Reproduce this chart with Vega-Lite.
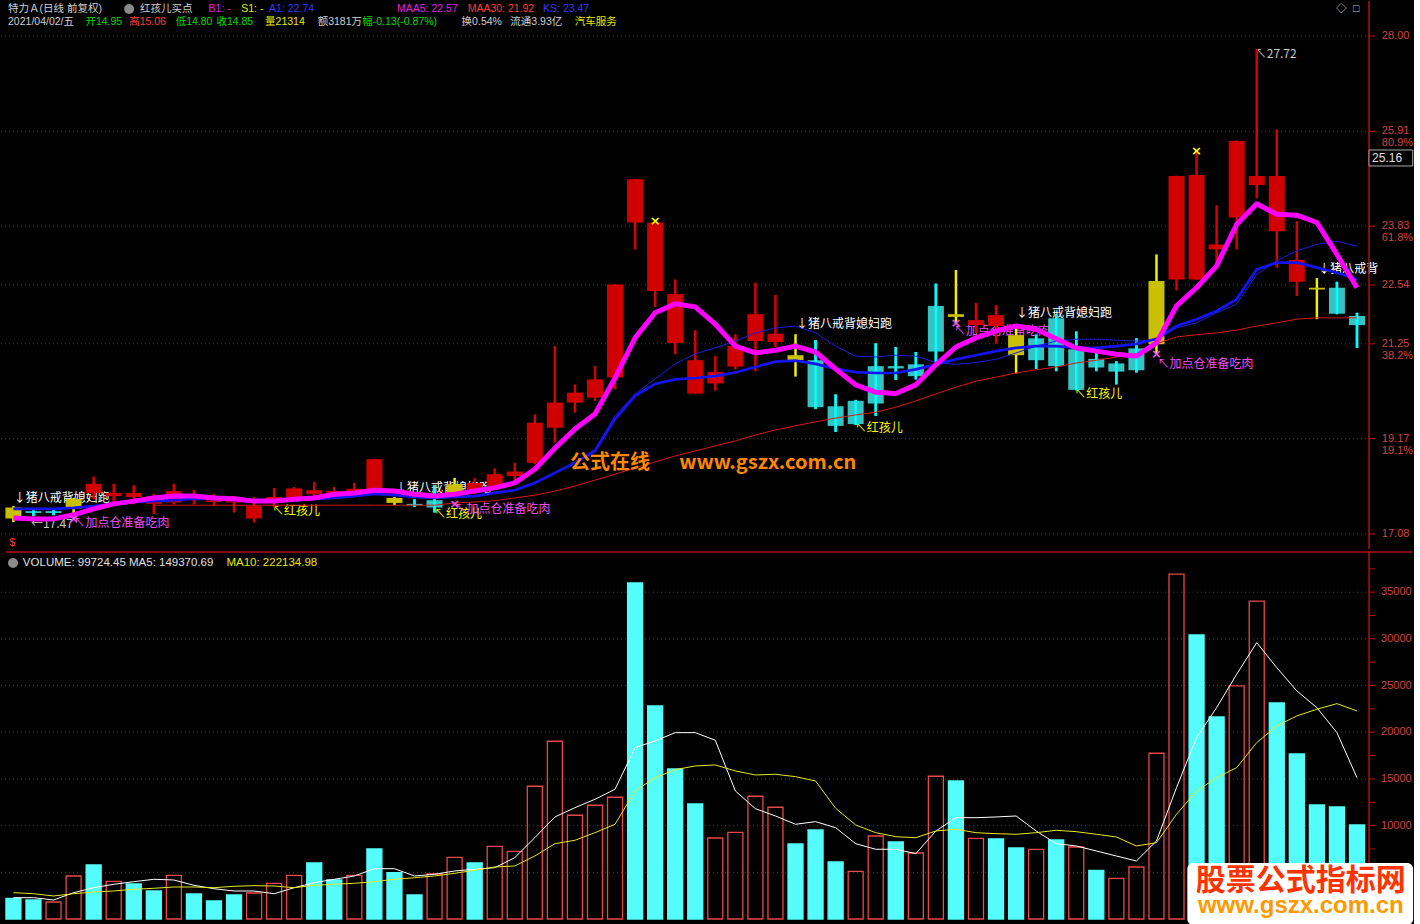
{
"$schema": "https://vega.github.io/schema/vega-lite/v6.json",
"background": "#000000",
"padding": {"left": 0, "top": 0, "right": 0, "bottom": 0},
"autosize": {"type": "pad", "contains": "padding"},
"spacing": 3,
"bounds": "flush",
"config": {"view": {"stroke": null}, "font": "Noto Sans CJK SC"},
"resolve": {"scale": {"fill": "independent", "stroke": "independent", "color": "independent"}},
"datasets": {
"k": [
{"i":0,"o":17.42,"h":17.69,"l":17.34,"c":17.66,"t":"y","ma5":17.43,"a1":17.63,"ks":17.63,"v":2217,"vk":"d","vm5":2281,"vm10":2817},
{"i":1,"o":17.58,"h":17.63,"l":17.47,"c":17.54,"t":"g","ma5":17.41,"a1":17.63,"ks":17.63,"v":2035,"vk":"d","vm5":2281,"vm10":2710},
{"i":2,"o":17.58,"h":17.63,"l":17.49,"c":17.54,"t":"g","ma5":17.41,"a1":17.63,"ks":17.63,"v":1820,"vk":"u","vm5":2035,"vm10":2463},
{"i":3,"o":17.63,"h":17.87,"l":17.43,"c":17.85,"t":"y","ma5":17.50,"a1":17.65,"ks":17.65,"v":4605,"vk":"u","vm5":2817,"vm10":2710},
{"i":4,"o":17.98,"h":18.34,"l":17.84,"c":18.18,"t":"r","ma5":17.63,"a1":17.69,"ks":17.69,"v":5783,"vk":"d","vm5":3352,"vm10":2892},
{"i":5,"o":17.91,"h":18.18,"l":17.75,"c":17.98,"t":"r","ma5":17.74,"a1":17.74,"ks":17.74,"v":4037,"vk":"u","vm5":3716,"vm10":2999},
{"i":6,"o":17.89,"h":18.15,"l":17.73,"c":17.98,"t":"r","ma5":17.80,"a1":17.78,"ks":17.78,"v":3749,"vk":"d","vm5":3995,"vm10":3181},
{"i":7,"o":17.74,"h":17.96,"l":17.52,"c":17.91,"t":"r","ma5":17.87,"a1":17.80,"ks":17.80,"m30":17.71,"v":2999,"vk":"d","vm5":4252,"vm10":3288},
{"i":8,"o":17.77,"h":18.18,"l":17.73,"c":18.02,"t":"r","ma5":17.91,"a1":17.82,"ks":17.82,"m30":17.71,"v":4680,"vk":"u","vm5":4177,"vm10":3427},
{"i":9,"o":17.86,"h":18.04,"l":17.73,"c":17.93,"t":"r","ma5":17.91,"a1":17.85,"ks":17.85,"m30":17.71,"v":2678,"vk":"d","vm5":3609,"vm10":3427},
{"i":10,"o":17.78,"h":17.96,"l":17.69,"c":17.82,"t":"r","ma5":17.87,"a1":17.85,"ks":17.85,"m30":17.71,"v":1928,"vk":"d","vm5":3245,"vm10":3352},
{"i":11,"o":17.77,"h":17.91,"l":17.55,"c":17.82,"t":"r","ma5":17.85,"a1":17.82,"ks":17.82,"m30":17.71,"v":2570,"vk":"d","vm5":2999,"vm10":3502},
{"i":12,"o":17.42,"h":17.89,"l":17.33,"c":17.69,"t":"r","ma5":17.80,"a1":17.80,"ks":17.80,"m30":17.71,"v":2785,"vk":"u","vm5":2999,"vm10":3566},
{"i":13,"o":17.84,"h":18.09,"l":17.66,"c":17.89,"t":"r","ma5":17.80,"a1":17.80,"ks":17.80,"m30":17.71,"v":3823,"vk":"u","vm5":2710,"vm10":3534},
{"i":14,"o":17.87,"h":18.11,"l":17.86,"c":18.08,"t":"r","ma5":17.84,"a1":17.82,"ks":17.82,"m30":17.71,"v":4680,"vk":"u","vm5":3352,"vm10":3352},
{"i":15,"o":17.95,"h":18.22,"l":17.87,"c":18.04,"t":"r","ma5":17.87,"a1":17.85,"ks":17.85,"m30":17.71,"v":5998,"vk":"d","vm5":3888,"vm10":3609},
{"i":16,"o":17.91,"h":18.11,"l":17.87,"c":18.02,"t":"r","ma5":17.95,"a1":17.87,"ks":17.87,"m30":17.71,"v":4177,"vk":"d","vm5":4252,"vm10":3716},
{"i":17,"o":17.95,"h":18.20,"l":17.91,"c":18.07,"t":"r","ma5":17.98,"a1":17.91,"ks":17.91,"m30":17.71,"v":4680,"vk":"u","vm5":4605,"vm10":3823},
{"i":18,"o":18.02,"h":18.73,"l":17.98,"c":18.72,"t":"r","ma5":18.04,"a1":17.96,"ks":17.96,"m30":17.71,"v":7497,"vk":"d","vm5":5387,"vm10":3995},
{"i":19,"o":17.87,"h":17.89,"l":17.71,"c":17.76,"t":"y","ma5":18.02,"a1":17.93,"ks":17.93,"m30":17.71,"v":4959,"vk":"d","vm5":5387,"vm10":4252},
{"i":20,"o":17.74,"h":17.84,"l":17.67,"c":17.71,"t":"g","ma5":17.95,"a1":17.89,"ks":17.89,"m30":17.71,"v":2570,"vk":"d","vm5":4605,"vm10":4423},
{"i":21,"o":17.82,"h":18.15,"l":17.55,"c":17.66,"t":"g","ma5":17.91,"a1":17.87,"ks":17.87,"m30":17.71,"v":4820,"vk":"u","vm5":4787,"vm10":4605},
{"i":22,"o":17.98,"h":18.31,"l":17.91,"c":18.17,"t":"y","ma5":17.95,"a1":17.89,"ks":17.89,"m30":17.76,"v":6608,"vk":"u","vm5":5141,"vm10":4895},
{"i":23,"o":18.06,"h":18.31,"l":17.95,"c":18.20,"t":"r","ma5":18.02,"a1":17.91,"ks":17.91,"m30":17.78,"v":5998,"vk":"d","vm5":5323,"vm10":5216},
{"i":24,"o":18.09,"h":18.52,"l":18.06,"c":18.39,"t":"r","ma5":18.09,"a1":17.98,"ks":17.98,"m30":17.81,"v":7786,"vk":"u","vm5":5494,"vm10":5569},
{"i":25,"o":18.35,"h":18.64,"l":18.24,"c":18.45,"t":"r","ma5":18.20,"a1":18.04,"ks":18.04,"m30":17.87,"v":7250,"vk":"u","vm5":6565,"vm10":5676},
{"i":26,"o":18.64,"h":19.70,"l":18.61,"c":19.52,"t":"r","ma5":18.50,"a1":18.20,"ks":18.20,"m30":17.93,"v":14212,"vk":"u","vm5":8707,"vm10":6747},
{"i":27,"o":19.41,"h":21.20,"l":19.08,"c":19.96,"t":"r","ma5":18.96,"a1":18.42,"ks":18.42,"m30":18.02,"v":19032,"vk":"u","vm5":10924,"vm10":8065},
{"i":28,"o":19.96,"h":20.36,"l":19.74,"c":20.18,"t":"r","ma5":19.38,"a1":18.64,"ks":18.64,"m30":18.13,"v":11106,"vk":"u","vm5":11920,"vm10":8429},
{"i":29,"o":20.07,"h":20.76,"l":20.00,"c":20.47,"t":"r","ma5":19.71,"a1":18.90,"ks":18.94,"m30":18.26,"v":12177,"vk":"u","vm5":12820,"vm10":9243},
{"i":30,"o":20.51,"h":22.56,"l":20.25,"c":22.55,"t":"r","ma5":20.50,"a1":19.60,"ks":19.67,"m30":18.39,"v":13034,"vk":"u","vm5":13891,"vm10":10142},
{"i":31,"o":23.91,"h":24.87,"l":23.32,"c":24.86,"t":"r","ma5":21.38,"a1":20.11,"ks":20.15,"m30":18.53,"v":35986,"vk":"d","vm5":18346,"vm10":13709},
{"i":32,"o":22.41,"h":23.92,"l":22.06,"c":23.91,"t":"r","ma5":21.93,"a1":20.37,"ks":20.48,"m30":18.66,"v":22812,"vk":"d","vm5":19064,"vm10":15133},
{"i":33,"o":21.27,"h":22.66,"l":21.02,"c":22.34,"t":"r","ma5":22.13,"a1":20.47,"ks":20.81,"m30":18.79,"v":16065,"vk":"d","vm5":19953,"vm10":15990},
{"i":34,"o":20.16,"h":21.55,"l":20.15,"c":20.89,"t":"r","ma5":22.06,"a1":20.50,"ks":21.03,"m30":18.90,"v":12317,"vk":"d","vm5":19953,"vm10":16386},
{"i":35,"o":20.38,"h":20.98,"l":20.22,"c":20.63,"t":"r","ma5":21.68,"a1":20.54,"ks":21.16,"m30":19.01,"v":8675,"vk":"u","vm5":19139,"vm10":16493},
{"i":36,"o":20.75,"h":21.46,"l":20.69,"c":21.20,"t":"r","ma5":21.20,"a1":20.62,"ks":21.31,"m30":19.12,"v":9285,"vk":"u","vm5":13709,"vm10":15851},
{"i":37,"o":21.31,"h":22.59,"l":20.65,"c":21.90,"t":"r","ma5":21.05,"a1":20.74,"ks":21.49,"m30":19.25,"v":13141,"vk":"u","vm5":11813,"vm10":15422},
{"i":38,"o":21.29,"h":22.32,"l":21.18,"c":21.47,"t":"r","ma5":21.11,"a1":20.86,"ks":21.60,"m30":19.36,"v":11963,"vk":"u","vm5":11031,"vm10":15497},
{"i":39,"o":20.89,"h":21.46,"l":20.53,"c":21.00,"t":"y","ma5":21.20,"a1":20.88,"ks":21.64,"m30":19.45,"v":8033,"vk":"d","vm5":10142,"vm10":15240},
{"i":40,"o":20.89,"h":21.33,"l":19.82,"c":19.86,"t":"g","ma5":21.07,"a1":20.81,"ks":21.49,"m30":19.54,"v":9532,"vk":"d","vm5":10421,"vm10":14780},
{"i":41,"o":19.88,"h":20.14,"l":19.32,"c":19.45,"t":"g","ma5":20.70,"a1":20.70,"ks":21.20,"m30":19.62,"v":6105,"vk":"d","vm5":9778,"vm10":11856},
{"i":42,"o":20.00,"h":20.02,"l":19.47,"c":19.49,"t":"g","ma5":20.35,"a1":20.63,"ks":20.98,"m30":19.69,"v":5109,"vk":"u","vm5":8065,"vm10":10067},
{"i":43,"o":20.76,"h":21.26,"l":19.67,"c":19.94,"t":"g","ma5":20.19,"a1":20.61,"ks":20.96,"m30":19.75,"v":8889,"vk":"u","vm5":7465,"vm10":9243},
{"i":44,"o":20.76,"h":21.18,"l":20.46,"c":20.71,"t":"g","ma5":20.16,"a1":20.61,"ks":21.00,"m30":19.86,"v":8247,"vk":"d","vm5":7465,"vm10":8814},
{"i":45,"o":20.80,"h":21.07,"l":20.47,"c":20.54,"t":"g","ma5":20.35,"a1":20.69,"ks":20.98,"m30":20.00,"v":7069,"vk":"u","vm5":6994,"vm10":8707},
{"i":46,"o":22.08,"h":22.57,"l":20.80,"c":21.08,"t":"g","ma5":20.79,"a1":20.80,"ks":20.84,"m30":20.15,"v":15283,"vk":"u","vm5":9425,"vm10":9425},
{"i":47,"o":21.84,"h":22.87,"l":21.68,"c":21.90,"t":"y","ma5":21.18,"a1":20.91,"ks":20.80,"m30":20.30,"v":14780,"vk":"d","vm5":10849,"vm10":9607},
{"i":48,"o":21.66,"h":22.15,"l":21.49,"c":21.77,"t":"r","ma5":21.38,"a1":21.00,"ks":20.84,"m30":20.43,"v":8643,"vk":"u","vm5":10849,"vm10":9243},
{"i":49,"o":21.64,"h":22.10,"l":21.25,"c":21.88,"t":"r","ma5":21.53,"a1":21.09,"ks":20.91,"m30":20.52,"v":8568,"vk":"d","vm5":10924,"vm10":9136},
{"i":50,"o":21.00,"h":21.59,"l":20.60,"c":21.44,"t":"y","ma5":21.64,"a1":21.16,"ks":21.05,"m30":20.61,"v":7604,"vk":"d","vm5":11031,"vm10":9071},
{"i":51,"o":21.37,"h":21.45,"l":20.70,"c":20.89,"t":"g","ma5":21.57,"a1":21.20,"ks":21.20,"m30":20.68,"v":7465,"vk":"u","vm5":9425,"vm10":9243},
{"i":52,"o":21.81,"h":21.90,"l":20.65,"c":20.76,"t":"g","ma5":21.36,"a1":21.20,"ks":21.31,"m30":20.74,"v":8461,"vk":"d","vm5":8065,"vm10":9500},
{"i":53,"o":21.13,"h":21.52,"l":20.23,"c":20.24,"t":"g","ma5":21.16,"a1":21.16,"ks":21.35,"m30":20.83,"v":7711,"vk":"u","vm5":7818,"vm10":9350},
{"i":54,"o":20.92,"h":21.18,"l":20.65,"c":20.73,"t":"g","ma5":21.09,"a1":21.16,"ks":21.35,"m30":20.89,"v":5216,"vk":"d","vm5":7283,"vm10":9071},
{"i":55,"o":20.82,"h":20.87,"l":20.36,"c":20.64,"t":"g","ma5":21.02,"a1":21.20,"ks":21.33,"m30":20.96,"v":4359,"vk":"u","vm5":6747,"vm10":8782},
{"i":56,"o":21.15,"h":21.37,"l":20.62,"c":20.67,"t":"g","ma5":20.98,"a1":21.25,"ks":21.31,"m30":21.03,"v":5569,"vk":"u","vm5":6212,"vm10":7818},
{"i":57,"o":21.24,"h":23.21,"l":21.02,"c":22.63,"t":"y","ma5":21.27,"a1":21.36,"ks":21.33,"m30":21.25,"v":17747,"vk":"u","vm5":8354,"vm10":8172},
{"i":58,"o":22.66,"h":24.94,"l":22.42,"c":24.93,"t":"r","ma5":22.08,"a1":21.64,"ks":21.60,"m30":21.40,"v":36917,"vk":"u","vm5":14062,"vm10":11213},
{"i":59,"o":22.66,"h":25.48,"l":22.65,"c":24.95,"t":"r","ma5":22.48,"a1":21.79,"ks":21.71,"m30":21.45,"v":30416,"vk":"d","vm5":19417,"vm10":13709},
{"i":60,"o":23.32,"h":24.29,"l":23.03,"c":23.43,"t":"r","ma5":22.96,"a1":21.97,"ks":21.93,"m30":21.49,"v":21634,"vk":"d","vm5":22630,"vm10":15133},
{"i":61,"o":24.02,"h":25.71,"l":23.32,"c":25.70,"t":"r","ma5":23.87,"a1":22.23,"ks":22.12,"m30":21.55,"v":24954,"vk":"u","vm5":26207,"vm10":16204},
{"i":62,"o":24.73,"h":27.72,"l":24.44,"c":24.93,"t":"r","ma5":24.32,"a1":22.88,"ks":22.77,"m30":21.64,"v":34025,"vk":"u","vm5":29592,"vm10":18882},
{"i":63,"o":23.72,"h":25.95,"l":22.92,"c":24.93,"t":"r","ma5":24.09,"a1":23.03,"ks":23.07,"m30":21.71,"v":23134,"vk":"d","vm5":26914,"vm10":20670},
{"i":64,"o":22.61,"h":23.94,"l":22.30,"c":23.09,"t":"r","ma5":24.07,"a1":23.03,"ks":23.29,"m30":21.79,"v":17672,"vk":"d","vm5":24419,"vm10":21741},
{"i":65,"o":22.44,"h":22.69,"l":21.79,"c":22.48,"t":"y","ma5":23.91,"a1":22.92,"ks":23.43,"m30":21.82,"v":12209,"vk":"d","vm5":22630,"vm10":22459},
{"i":66,"o":22.48,"h":22.61,"l":21.90,"c":21.91,"t":"g","ma5":23.21,"a1":22.81,"ks":23.50,"m30":21.82,"v":11995,"vk":"d","vm5":19953,"vm10":23059},
{"i":67,"o":21.86,"h":21.93,"l":21.16,"c":21.66,"t":"g","ma5":22.48,"a1":22.66,"ks":23.39,"m30":21.82,"v":10067,"vk":"d","vm5":15133,"vm10":22277}
],
"hdr": [
{"i":-0.27,"p":28.593,"s":"特力Ａ(日线 前复权)","r":"hw"},
{"i":6.31,"p":28.593,"s":"红孩儿买点","r":"hw"},
{"i":9.73,"p":28.593,"s":"B1: -","r":"hm"},
{"i":11.36,"p":28.593,"s":"S1: -","r":"hy"},
{"i":12.75,"p":28.593,"s":"A1: 22.74","r":"hb"},
{"i":19.13,"p":28.593,"s":"MAA5: 22.57","r":"hm"},
{"i":22.65,"p":28.593,"s":"MAA30: 21.92","r":"hr"},
{"i":26.41,"p":28.593,"s":"KS: 23.47","r":"hb"},
{"i":-0.27,"p":28.307,"s":"2021/04/02/五","r":"hw"},
{"i":3.59,"p":28.307,"s":"开14.95","r":"hg"},
{"i":5.77,"p":28.307,"s":"高15.06","r":"hr"},
{"i":8.09,"p":28.307,"s":"低14.80","r":"hg"},
{"i":10.12,"p":28.307,"s":"收14.85","r":"hg"},
{"i":12.55,"p":28.307,"s":"量21314","r":"hy"},
{"i":15.17,"p":28.307,"s":"额3181万","r":"hw"},
{"i":17.40,"p":28.307,"s":"幅-0.13(-0.87%)","r":"hg"},
{"i":22.35,"p":28.307,"s":"换0.54%","r":"hw"},
{"i":24.78,"p":28.307,"s":"流通3.93亿","r":"hw"},
{"i":27.99,"p":28.307,"s":"汽车服务","r":"hy"},
{"i":-0.2,"p":16.88,"s":"$","r":"hr"},
{"i":65.95,"p":28.593,"s":"◇","r":"lg"},
{"i":66.8,"p":28.593,"s":"□","r":"lg"}
],
"lab": [
{"i":0.02,"p":17.87,"s":"↓猪八戒背媳妇跑","r":"lw"},
{"i":19.03,"p":18.09,"s":"↓猪八戒背媳妇跑","r":"lw"},
{"i":39.03,"p":21.68,"s":"↓猪八戒背媳妇跑","r":"lw"},
{"i":50.0,"p":21.93,"s":"↓猪八戒背媳妇跑","r":"lw"},
{"i":65.07,"p":22.90,"s":"↓猪八戒背","r":"lw"},
{"i":12.9,"p":17.58,"s":"↖红孩儿","r":"ly"},
{"i":20.97,"p":17.51,"s":"↖红孩儿","r":"ly"},
{"i":41.96,"p":19.41,"s":"↖红孩儿","r":"ly"},
{"i":52.9,"p":20.16,"s":"↖红孩儿","r":"ly"},
{"i":3.0,"p":17.33,"s":"↖加点仓准备吃肉","r":"lm"},
{"i":22.0,"p":17.63,"s":"↖加点仓准备吃肉","r":"lm"},
{"i":46.9,"p":21.53,"s":"↖加点仓准备吃肉","r":"lm"},
{"i":57.05,"p":20.81,"s":"↖加点仓准备吃肉","r":"lm"},
{"i":0.87,"p":17.30,"s":"←17.47","r":"lg"},
{"i":61.9,"p":27.61,"s":"↖27.72","r":"lg"}
],
"mk": [
{"i":32,"p":23.94,"r":"ly"},
{"i":59,"p":25.48,"r":"ly"},
{"i":3,"p":17.41,"r":"lm"},
{"i":22,"p":17.74,"r":"lm"},
{"i":47,"p":21.71,"r":"lm"},
{"i":57,"p":21.02,"r":"lm"}
],
"pt": [
{"p":28.0,"s":"28.00"},
{"p":25.91,"s":"25.91"},
{"p":23.83,"s":"23.83"},
{"p":22.54,"s":"22.54"},
{"p":21.25,"s":"21.25"},
{"p":19.17,"s":"19.17"},
{"p":17.08,"s":"17.08"}
],
"pct": [
{"p":25.654,"s":"80.9%"},
{"p":23.571,"s":"61.8%"},
{"p":20.983,"s":"38.2%"},
{"p":18.900,"s":"19.1%"}
],
"cur": [{"i":67.75,"p":25.33,"s":"25.16"}],
"wm": [
{"i":27.75,"p":18.64,"s":"公式在线"},
{"i":33.2,"p":18.64,"s":"www.gszx.com.cn"}
],
"bx": [{"i":67.6,"i2":69.78,"p":25.50,"p2":25.15}],
"vt": [
{"v":35000,"s":"35000"},{"v":30000,"s":"30000"},{"v":25000,"s":"25000"},{"v":20000,"s":"20000"},{"v":15000,"s":"15000"},{"v":10000,"s":"10000"},{"v":5000,"s":"5000"}
],
"vmt": [
{"v":2500},{"v":5000},{"v":7500},{"v":10000},{"v":12500},{"v":15000},{"v":17500},{"v":20000},{"v":22500},{"v":25000},{"v":27500},{"v":30000},{"v":32500},{"v":35000},{"v":37500}
],
"vh": [
{"i":0.47,"v":38117,"s":"VOLUME: 99724.45  MA5: 149370.69","r":"hw"},
{"i":10.62,"v":38117,"s":"MA10: 222134.98","r":"hy"}
]
},
"vconcat": [
{
"width": 1373,
"height": 548,
"layer": [
{
"data": {"name": "pt"},
"mark": {"type": "rule", "color": "#8C1C1C", "strokeWidth": 1, "strokeDash": [1, 3]},
"encoding": {
"y": {"field": "p", "type": "quantitative", "scale": {"domain": [16.75, 28.768], "nice": false, "zero": false}, "axis": null}
}
},
{
"data": {"name": "lab"},
"mark": {"type": "text", "align": "left", "baseline": "middle", "fontSize": 12},
"encoding": {
"x": {"field": "i", "type": "quantitative", "scale": {"domain": [-0.371, 67.599], "nice": false, "zero": false}, "axis": null},
"y": {"field": "p", "type": "quantitative", "axis": null},
"text": {"field": "s", "type": "nominal"},
"color": {"field": "r", "type": "nominal", "legend": null,
"scale": {"domain": ["hw","hg","hr","hy","hm","hb","lw","ly","lm","lg"], "range": ["#D0D0D0","#00DC00","#FF3C3C","#E8E800","#E020E0","#3838FF","#FFFFFF","#FFFF00","#F050F0","#C8C8C8"]}}
}
},
{
"data": {"name": "k"},
"mark": {"type": "rule", "strokeWidth": 2.5},
"encoding": {
"x": {"field": "i", "type": "quantitative", "axis": null},
"y": {"field": "l", "type": "quantitative", "axis": null},
"y2": {"field": "h"},
"stroke": {"field": "t", "type": "nominal", "legend": null, "scale": {"domain": ["r","g","y"], "range": ["#D80000","#00F0F0","#F0F000"]}}
}
},
{
"data": {"name": "k"},
"mark": {"type": "bar", "size": 16},
"encoding": {
"x": {"field": "i", "type": "quantitative", "axis": null},
"y": {"field": "o", "type": "quantitative", "axis": null},
"y2": {"field": "c"},
"fill": {"field": "t", "type": "nominal", "legend": null, "scale": {"domain": ["r","g","y"], "range": ["#D00000","#34C4C4","#C8C000"]}}
}
},
{
"data": {"name": "k"},
"transform": [{"filter": "datum.t == 'g'"}],
"mark": {"type": "rule", "strokeWidth": 2.5, "color": "#00FFFF"},
"encoding": {
"x": {"field": "i", "type": "quantitative", "axis": null},
"y": {"field": "l", "type": "quantitative", "axis": null},
"y2": {"field": "h"}
}
},
{
"data": {"name": "k"},
"transform": [{"filter": "isValid(datum.m30)"}],
"mark": {"type": "line", "color": "#D81818", "strokeWidth": 1},
"encoding": {
"x": {"field": "i", "type": "quantitative", "axis": null},
"y": {"field": "m30", "type": "quantitative", "axis": null}
}
},
{
"data": {"name": "k"},
"mark": {"type": "line", "color": "#1C1CE0", "strokeWidth": 1},
"encoding": {
"x": {"field": "i", "type": "quantitative", "axis": null},
"y": {"field": "ks", "type": "quantitative", "axis": null}
}
},
{
"data": {"name": "k"},
"mark": {"type": "line", "color": "#1414F0", "strokeWidth": 2.7},
"encoding": {
"x": {"field": "i", "type": "quantitative", "axis": null},
"y": {"field": "a1", "type": "quantitative", "axis": null}
}
},
{
"data": {"name": "k"},
"mark": {"type": "line", "color": "#FF00FF", "strokeWidth": 5, "strokeJoin": "round"},
"encoding": {
"x": {"field": "i", "type": "quantitative", "axis": null},
"y": {"field": "ma5", "type": "quantitative", "axis": null}
}
},
{
"data": {"name": "mk"},
"mark": {"type": "text", "align": "center", "baseline": "middle", "fontSize": 13, "fontWeight": "bold", "font": "DejaVu Sans"},
"encoding": {
"x": {"field": "i", "type": "quantitative", "axis": null},
"y": {"field": "p", "type": "quantitative", "axis": null},
"text": {"value": "×"},
"color": {"field": "r", "type": "nominal", "legend": null,
"scale": {"domain": ["hw","hg","hr","hy","hm","hb","lw","ly","lm","lg"], "range": ["#D0D0D0","#00DC00","#FF3C3C","#E8E800","#E020E0","#3838FF","#FFFFFF","#FFFF00","#F050F0","#C8C8C8"]}}
}
},
{
"data": {"name": "wm"},
"mark": {"type": "text", "align": "left", "baseline": "middle", "fontSize": 20, "fontWeight": "bold", "color": "#FF8800"},
"encoding": {
"x": {"field": "i", "type": "quantitative", "axis": null},
"y": {"field": "p", "type": "quantitative", "axis": null},
"text": {"field": "s", "type": "nominal"}
}
},
{
"data": {"values": [{"i": 67.599}]},
"mark": {"type": "rule", "color": "#B01010", "strokeWidth": 1.5},
"encoding": {
"x": {"field": "i", "type": "quantitative", "axis": null}
}
},
{
"data": {"name": "pt"},
"mark": {"type": "rule", "color": "#B01010", "strokeWidth": 1},
"encoding": {
"x": {"datum": 67.599, "type": "quantitative", "axis": null},
"x2": {"datum": 67.9},
"y": {"field": "p", "type": "quantitative", "axis": null}
}
},
{
"data": {"name": "pt"},
"mark": {"type": "text", "align": "left", "baseline": "middle", "fontSize": 11, "font": "Liberation Sans", "color": "#D04444"},
"encoding": {
"x": {"datum": 68.24, "type": "quantitative", "axis": null},
"y": {"field": "p", "type": "quantitative", "axis": null},
"text": {"field": "s", "type": "nominal"}
}
},
{
"data": {"name": "pct"},
"mark": {"type": "text", "align": "left", "baseline": "middle", "fontSize": 11, "font": "Liberation Sans", "color": "#D04444"},
"encoding": {
"x": {"datum": 68.24, "type": "quantitative", "axis": null},
"y": {"field": "p", "type": "quantitative", "axis": null},
"text": {"field": "s", "type": "nominal"}
}
},
{
"data": {"name": "bx"},
"mark": {"type": "rect", "fill": "#000000", "stroke": "#A8A8A8", "strokeWidth": 1},
"encoding": {
"x": {"field": "i", "type": "quantitative", "axis": null},
"x2": {"field": "i2"},
"y": {"field": "p", "type": "quantitative", "axis": null},
"y2": {"field": "p2"}
}
},
{
"data": {"name": "cur"},
"mark": {"type": "text", "align": "left", "baseline": "middle", "fontSize": 12, "font": "Liberation Sans", "color": "#E0E0E0"},
"encoding": {
"x": {"field": "i", "type": "quantitative", "axis": null},
"y": {"field": "p", "type": "quantitative", "axis": null},
"text": {"field": "s", "type": "nominal"}
}
},
{
"data": {"name": "hdr"},
"mark": {"type": "text", "align": "left", "baseline": "middle", "fontSize": 10.5, "font": "'Liberation Sans', 'Noto Sans CJK SC'"},
"encoding": {
"x": {"field": "i", "type": "quantitative", "axis": null},
"y": {"field": "p", "type": "quantitative", "axis": null},
"text": {"field": "s", "type": "nominal"},
"color": {"field": "r", "type": "nominal", "legend": null,
"scale": {"domain": ["hw","hg","hr","hy","hm","hb","lw","ly","lm","lg"], "range": ["#D0D0D0","#00DC00","#FF3C3C","#E8E800","#E020E0","#3838FF","#FFFFFF","#FFFF00","#F050F0","#C8C8C8"]}}
}
},
{
"data": {"values": [{"i": 5.77, "p": 28.593}]},
"mark": {"type": "circle", "color": "#8A8A8A", "size": 100, "opacity": 1},
"encoding": {
"x": {"field": "i", "type": "quantitative", "axis": null},
"y": {"field": "p", "type": "quantitative", "axis": null}
}
}
]
},
{
"width": 1373,
"height": 367,
"layer": [
{
"data": {"name": "vt"},
"mark": {"type": "rule", "color": "#8C1C1C", "strokeWidth": 1, "strokeDash": [1, 3]},
"encoding": {
"y": {"field": "v", "type": "quantitative", "scale": {"domain": [0, 39295], "nice": false}, "axis": null}
}
},
{
"data": {"name": "k"},
"mark": {"type": "bar", "size": 15, "strokeWidth": 1.3},
"encoding": {
"x": {"field": "i", "type": "quantitative", "scale": {"domain": [-0.371, 67.599], "nice": false, "zero": false}, "axis": null},
"y": {"field": "v", "type": "quantitative", "axis": null},
"fill": {"field": "vk", "type": "nominal", "legend": null, "scale": {"domain": ["u","d"], "range": ["transparent","#54FCFC"]}},
"stroke": {"field": "vk", "type": "nominal", "legend": null, "scale": {"domain": ["u","d"], "range": ["#E84848","#54FCFC"]}}
}
},
{
"data": {"name": "k"},
"mark": {"type": "line", "color": "#FFFFFF", "strokeWidth": 1},
"encoding": {
"x": {"field": "i", "type": "quantitative", "axis": null},
"y": {"field": "vm5", "type": "quantitative", "axis": null}
}
},
{
"data": {"name": "k"},
"mark": {"type": "line", "color": "#E8E820", "strokeWidth": 1},
"encoding": {
"x": {"field": "i", "type": "quantitative", "axis": null},
"y": {"field": "vm10", "type": "quantitative", "axis": null}
}
},
{
"data": {"values": [{"v": 39295}]},
"mark": {"type": "rule", "color": "#B01010", "strokeWidth": 1.5},
"encoding": {
"x": {"datum": -0.371, "type": "quantitative", "axis": null},
"x2": {"datum": 69.78},
"y": {"field": "v", "type": "quantitative", "axis": null}
}
},
{
"data": {"values": [{"i": 67.599}]},
"mark": {"type": "rule", "color": "#B01010", "strokeWidth": 1.5},
"encoding": {
"x": {"field": "i", "type": "quantitative", "axis": null}
}
},
{
"data": {"name": "vmt"},
"mark": {"type": "rule", "color": "#B01010", "strokeWidth": 1},
"encoding": {
"x": {"datum": 67.599, "type": "quantitative", "axis": null},
"x2": {"datum": 67.9},
"y": {"field": "v", "type": "quantitative", "axis": null}
}
},
{
"data": {"name": "vt"},
"transform": [{"filter": "datum.v > 5000"}],
"mark": {"type": "text", "align": "left", "baseline": "middle", "fontSize": 11, "font": "Liberation Sans", "color": "#D04444"},
"encoding": {
"x": {"datum": 68.2, "type": "quantitative", "axis": null},
"y": {"field": "v", "type": "quantitative", "axis": null},
"text": {"field": "s", "type": "nominal"}
}
},
{
"data": {"name": "vh"},
"mark": {"type": "text", "align": "left", "baseline": "middle", "fontSize": 11.5, "font": "'Liberation Sans', 'Noto Sans CJK SC'"},
"encoding": {
"x": {"field": "i", "type": "quantitative", "axis": null},
"y": {"field": "v", "type": "quantitative", "axis": null},
"text": {"field": "s", "type": "nominal"},
"color": {"field": "r", "type": "nominal", "legend": null, "scale": {"domain": ["hw","hy"], "range": ["#E0E0E0","#E8E800"]}}
}
},
{
"data": {"values": [{"i": -0.02, "v": 38117}]},
"mark": {"type": "circle", "color": "#8A8A8A", "size": 100, "opacity": 1},
"encoding": {
"x": {"field": "i", "type": "quantitative", "axis": null},
"y": {"field": "v", "type": "quantitative", "axis": null}
}
},
{
"data": {"values": [{"i": 58.54, "i2": 69.8, "v": 5996, "v2": -642}]},
"mark": {"type": "rect", "fill": "#FFFFFF", "cornerRadius": 6},
"encoding": {
"x": {"field": "i", "type": "quantitative", "axis": null},
"x2": {"field": "i2"},
"y": {"field": "v", "type": "quantitative", "axis": null},
"y2": {"field": "v2"}
}
},
{
"data": {"values": [{"i": 64.2, "v": 4069, "s": "股票公式指标网"}]},
"mark": {"type": "text", "align": "center", "baseline": "middle", "fontSize": 30, "fontWeight": "bold", "color": "#FF3300"},
"encoding": {
"x": {"field": "i", "type": "quantitative", "axis": null},
"y": {"field": "v", "type": "quantitative", "axis": null},
"text": {"field": "s", "type": "nominal"}
}
},
{
"data": {"values": [{"i": 64.2, "v": 1400, "s": "www.gszx.com.cn"}]},
"mark": {"type": "text", "align": "center", "baseline": "middle", "fontSize": 24, "fontWeight": "bold", "color": "#FF9900", "font": "Liberation Sans"},
"encoding": {
"x": {"field": "i", "type": "quantitative", "axis": null},
"y": {"field": "v", "type": "quantitative", "axis": null},
"text": {"field": "s", "type": "nominal"}
}
}
]
}
]
}
